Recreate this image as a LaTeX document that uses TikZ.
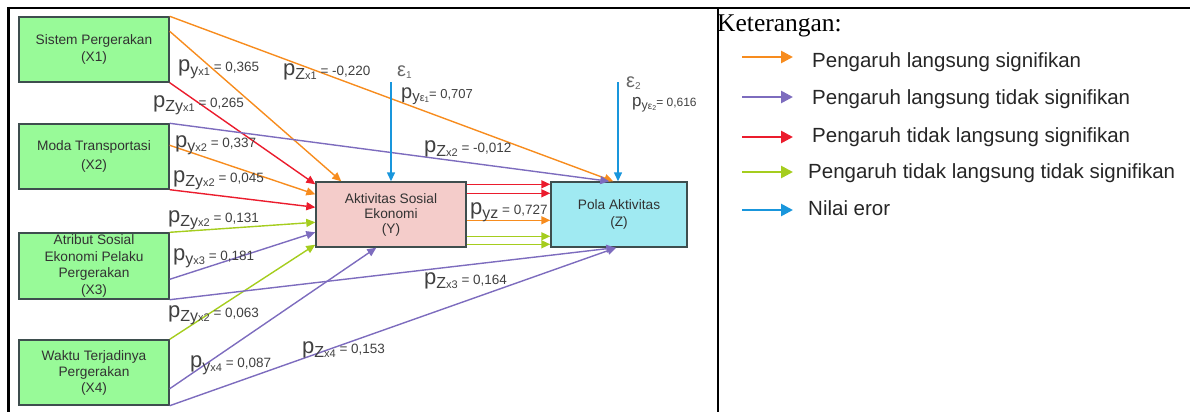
\documentclass[tikz,border=0pt]{standalone}
\usepackage{fontspec}
\setmainfont{Liberation Sans}
\newfontfamily\serifkt{Liberation Serif}
\usetikzlibrary{arrows.meta,calc}

\definecolor{cOrange}{RGB}{247,140,30}
\definecolor{cPurple}{RGB}{125,108,190}
\definecolor{cRed}{RGB}{235,28,45}
\definecolor{cLime}{RGB}{165,205,30}
\definecolor{cBlue}{RGB}{25,150,220}
\definecolor{fillX}{RGB}{152,250,152}
\definecolor{fillY}{RGB}{244,204,202}
\definecolor{fillZ}{RGB}{160,234,242}
\definecolor{edgeBox}{RGB}{62,78,78}
\definecolor{txt}{RGB}{50,50,50}
\definecolor{labtxt}{RGB}{64,64,64}

% path coefficient: p, first subscript, second subscript, value
\newcommand{\coef}[3]{{\fontsize{22}{22}\selectfont p}\raisebox{-4pt}{\fontsize{16}{16}\selectfont #1}\raisebox{-4pt}{\fontsize{11}{11}\selectfont #2}{\fontsize{13.5}{13.5}\selectfont #3}}
\newcommand{\coefmd}[3]{{\fontsize{20}{20}\selectfont p}\raisebox{-3.5pt}{\fontsize{15}{15}\selectfont #1}\raisebox{-3.5pt}{\fontsize{11}{11}\selectfont #2}{\fontsize{13}{13}\selectfont #3}}
\newcommand{\coefsm}[3]{{\fontsize{17}{17}\selectfont p}\raisebox{-3pt}{\fontsize{12.5}{12.5}\selectfont #1}\raisebox{-3pt}{\fontsize{10}{10}\selectfont #2}{\fontsize{12}{12}\selectfont #3}}
% error symbol with its index
\newcommand{\errsym}[1]{{\fontsize{20}{20}\selectfont ε}\raisebox{-2pt}{\fontsize{10}{10}\selectfont #1}}

\begin{document}
\begin{tikzpicture}[x=1pt,y=-1pt,
  box/.style={draw=edgeBox, line width=1.4pt, minimum height=65pt,
    inner sep=0pt, align=center, text=txt},
  conn/.style={line width=1.4pt, -{Triangle[length=9pt,width=8pt]}},
  legarrow/.style={line width=2.6pt, -{Triangle[length=12pt,width=12pt]}},
  lab/.style={anchor=base west, inner sep=0pt, text=labtxt},
  errlab/.style={anchor=base west, inner sep=0pt, text=black!60},
  legtext/.style={anchor=base west, inner sep=0pt, text=black!85,
    font=\fontsize{20.5}{20.5}\selectfont}]

\useasboundingbox (0,0) rectangle (1190,412);

% frame of the table
\draw[line width=2pt] (7,8) -- (1190,8);
\draw[line width=2.5pt] (8.5,7) -- (8.5,412);
\draw[line width=1.5pt] (718,8) -- (718,412);

% variables
\node[box, fill=fillX, minimum width=150pt, font=\fontsize{13.7}{17}\selectfont]
  (x1) at (94,49.5) {Sistem Pergerakan\\(X1)};
\node[box, fill=fillX, minimum width=150pt, font=\fontsize{13.7}{19}\selectfont]
  (x2) at (94,156.5) {Moda Transportasi\\(X2)};
\node[box, fill=fillX, minimum width=150pt, minimum height=66pt, font=\fontsize{13.7}{16.6}\selectfont]
  (x3) at (94,266) {Atribut Sosial\\Ekonomi Pelaku\\Pergerakan\\(X3)};
\node[box, fill=fillX, minimum width=150pt, font=\fontsize{13.7}{16}\selectfont]
  (x4) at (94,372.5) {Waktu Terjadinya\\Pergerakan\\(X4)};
\node[box, fill=fillY, minimum width=150pt, font=\fontsize{13.7}{15}\selectfont]
  (y) at (391,214.5) {Aktivitas Sosial\\Ekonomi\\(Y)};
\node[box, fill=fillZ, minimum width=136pt, font=\fontsize{13.7}{17}\selectfont]
  (z) at (619,214.5) {Pola Aktivitas\\(Z)};

% error terms
\coordinate (e1) at (391,82);
\coordinate (e2) at (618,82);

% paths into Y
\draw[conn, cOrange] ([yshift=-15pt]x1.north east) -- ([xshift=26pt]y.north west);
\draw[conn, cRed]    (x1.south east) -- ([yshift=-3pt]y.north west);
\draw[conn, cOrange] ([yshift=-22pt]x2.north east) -- ([yshift=-13pt]y.north west);
\draw[conn, cRed]    (x2.south east) -- ([yshift=-26pt]y.north west);
\draw[conn, cLime]   (x3.north east) -- ([yshift=-41pt]y.north west);
\draw[conn, cPurple] ([yshift=-47pt]x3.north east) -- ([yshift=-51pt]y.north west);
\draw[conn, cLime]   (x4.north east) -- ([yshift=3pt]y.south west);
\draw[conn, cPurple] ([yshift=17pt]x4.south east) -- ([xshift=61pt]y.south west);

% paths into Z
\draw[conn, cOrange] (x1.north east) -- ([xshift=63pt]z.north west);
\draw[conn, cPurple] (x2.north east) -- ([xshift=59pt]z.north west);
\draw[conn, cPurple] (x3.south east) -- ([xshift=65pt]z.south west);
\draw[conn, cPurple] (x4.south east) -- ([xshift=66pt]z.south west);

% Y to Z
\draw[conn, cRed]    ([yshift=-3pt]y.north east)  -- ([yshift=-3pt]z.north west);
\draw[conn, cRed]    ([yshift=-12pt]y.north east) -- ([yshift=-12pt]z.north west);
\draw[conn, cOrange] ([yshift=-39pt]y.north east) -- ([yshift=-39pt]z.north west);
\draw[conn, cLime]   ([yshift=-55pt]y.north east) -- ([yshift=-55pt]z.north west);
\draw[conn, cLime]   ([yshift=-63pt]y.north east) -- ([yshift=-63pt]z.north west);

% errors
\draw[conn, cBlue] (e1) -- (y.north);
\draw[conn, cBlue] (e2) -- (e2 |- z.north);

% coefficients
\node[lab] (l1)  at (178,71)  {\coef{y}{x1}{ = 0,365}};
\node[lab] (l2)  at (283,75)  {\coef{Z}{x1}{ = -0,220}};
\node[lab] (l3)  at (153,107) {\coef{Zy}{x1}{ = 0,265}};
\node[lab] (l4)  at (175,147) {\coef{y}{x2}{ = 0,337}};
\node[lab] (l5)  at (173,182) {\coef{Zy}{x2}{ = 0,045}};
\node[lab] (l6)  at (168,222) {\coef{Zy}{x2}{ = 0,131}};
\node[lab] (l7)  at (173,260) {\coef{y}{x3}{ = 0,181}};
\node[lab] (l8)  at (168,317) {\coef{Zy}{x2}{ = 0,063}};
\node[lab] (l9)  at (190,367) {\coef{y}{x4}{ = 0,087}};
\node[lab] (l10) at (302,353) {\coef{Z}{x4}{ = 0,153}};
\node[lab] (l11) at (424,284) {\coef{Z}{x3}{ = 0,164}};
\node[lab] (l12) at (470,214) {\coef{yz}{}{ = 0,727}};
\node[lab] (l13) at (424,152) {\coef{Z}{x2}{ = -0,012}};
\node[lab] (l14) at (401,98)  {\coefmd{y}{ε\raisebox{-1pt}{\fontsize{8}{8}\selectfont 1}}{= 0,707}};
\node[lab] (l15) at (632,106) {\coefsm{y}{ε\raisebox{-1pt}{\fontsize{7}{7}\selectfont 2}}{= 0,616}};
\node[errlab] (eps1) at (397,76) {\errsym{1}};
\node[errlab] (eps2) at (626,87) {\errsym{2}};

% legend
\node[anchor=base west, inner sep=0pt, font=\serifkt\fontsize{25.5}{25.5}\selectfont]
  (keter) at (717,32) {Keterangan:};
\node[legtext] (t1) at (812,67)  {Pengaruh langsung signifikan};
\node[legtext] (t2) at (812,104) {Pengaruh langsung tidak signifikan};
\node[legtext] (t3) at (812,142) {Pengaruh tidak langsung signifikan};
\node[legtext] (t4) at (808,178) {Pengaruh tidak langsung tidak signifikan};
\node[legtext] (t5) at (808,215) {Nilai eror};
\coordinate (a1) at (742,57);
\coordinate (a2) at (742,97);
\coordinate (a3) at (742,137);
\coordinate (a4) at (742,172);
\coordinate (a5) at (742,210);
\draw[legarrow, cOrange] (a1) -- ++(51,0);
\draw[legarrow, cPurple] (a2) -- ++(51,0);
\draw[legarrow, cRed]    (a3) -- ++(51,0);
\draw[legarrow, cLime]   (a4) -- ++(51,0);
\draw[legarrow, cBlue]   (a5) -- ++(51,0);
\end{tikzpicture}
\end{document}
